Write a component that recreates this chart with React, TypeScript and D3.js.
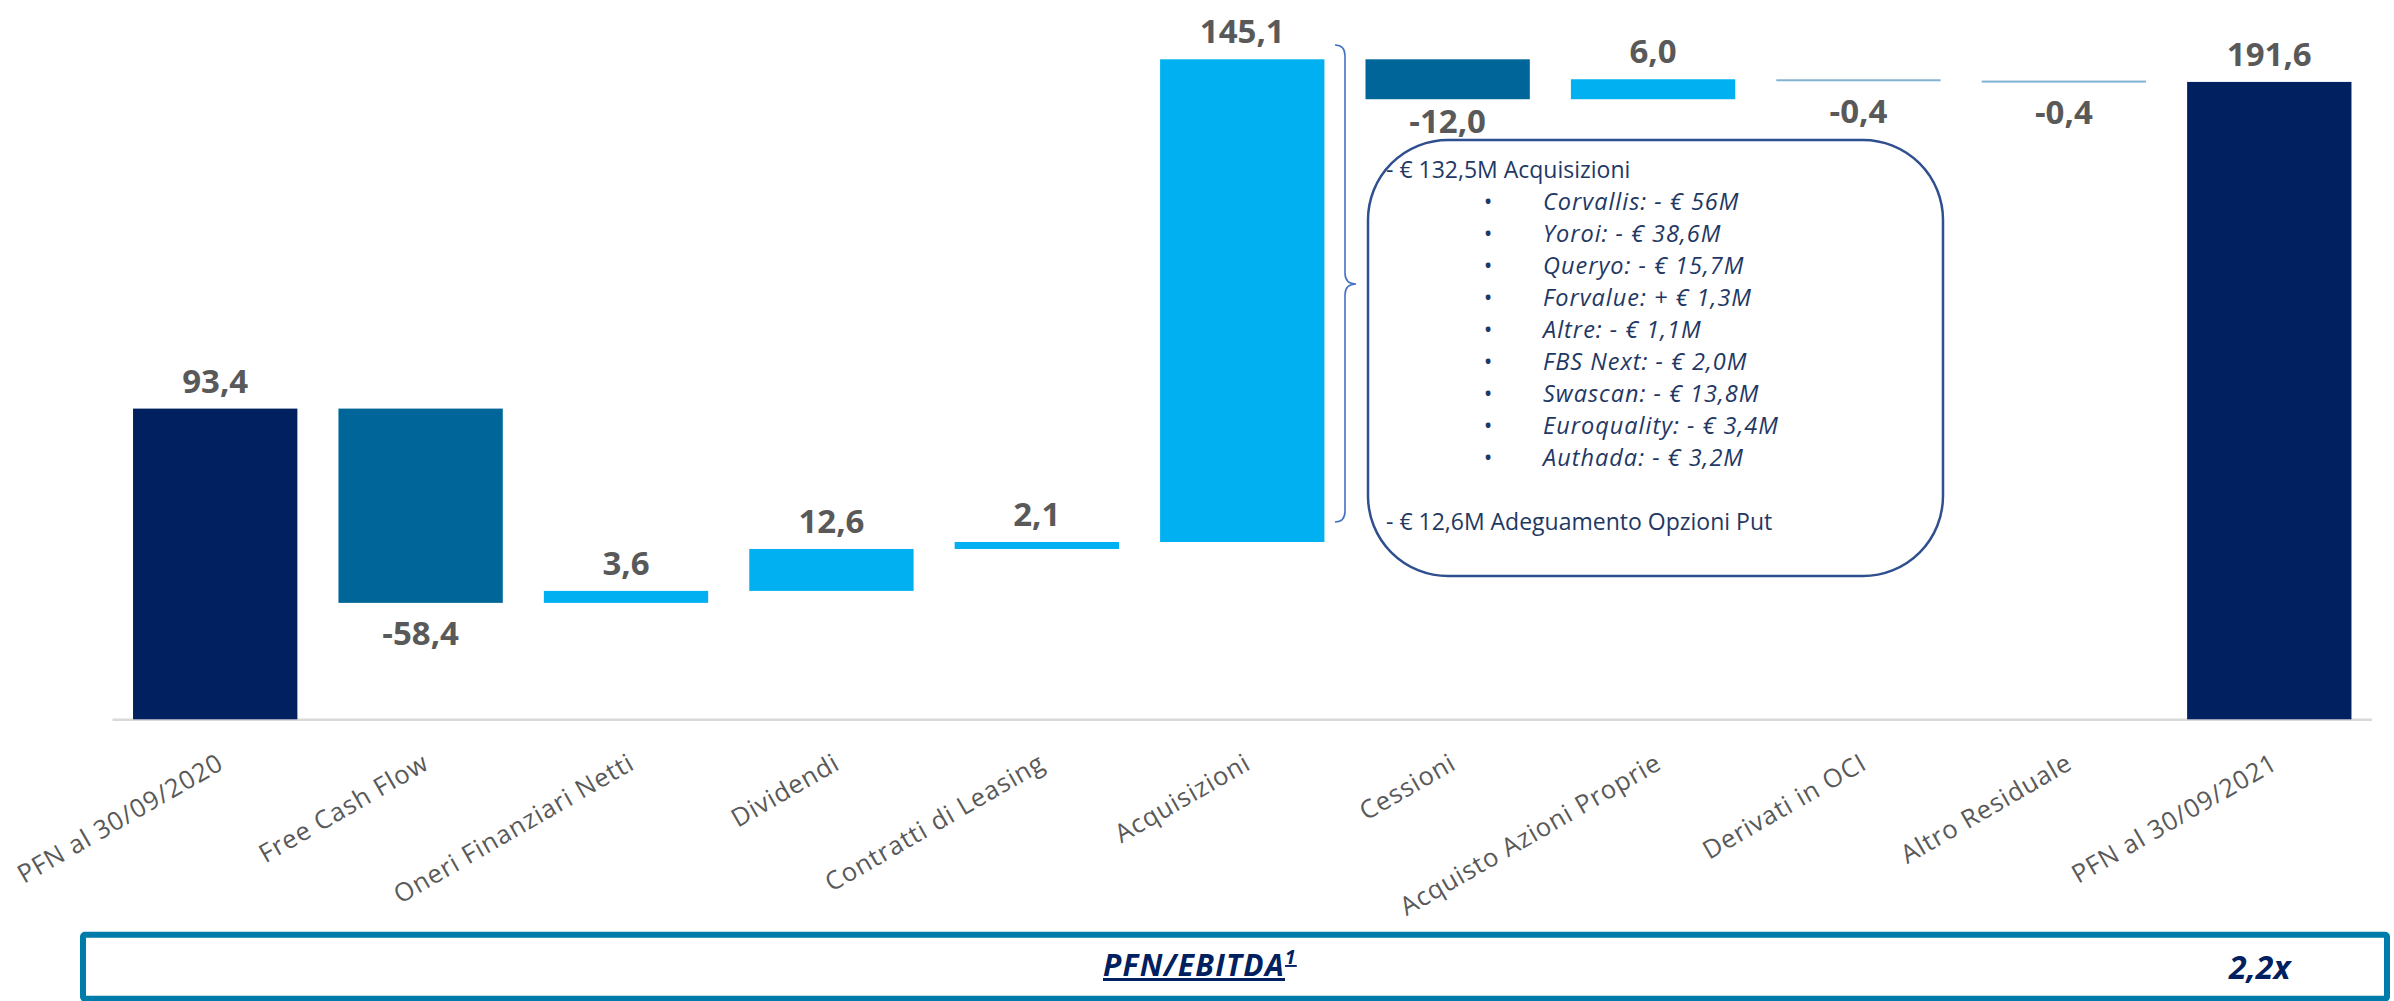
import React from "react";
import * as d3 from "d3";

const categories = [
  "PFN al 30/09/2020",
  "Free Cash Flow",
  "Oneri Finanziari Netti",
  "Dividendi",
  "Contratti di Leasing",
  "Acquisizioni",
  "Cessioni",
  "Acquisto Azioni Proprie",
  "Derivati in OCI",
  "Altro Residuale",
  "PFN al 30/09/2021",
];
const values = [93.4, -58.4, 3.6, 12.6, 2.1, 145.1, -12.0, 6.0, -0.4, -0.4, 191.6];
const isTotal = [true, false, false, false, false, false, false, false, false, false, true];

const acqHeader = "- € 132,5M Acquisizioni";
const acqItems = [
  "Corvallis: - € 56M",
  "Yoroi: - € 38,6M",
  "Queryo: - € 15,7M",
  "Forvalue: + € 1,3M",
  "Altre: - € 1,1M",
  "FBS Next: - € 2,0M",
  "Swascan: - € 13,8M",
  "Euroquality: - € 3,4M",
  "Authada: - € 3,2M",
];
const putLine = "- € 12,6M Adeguamento Opzioni Put";
const ratioLabel = "PFN/EBITDA";
const ratioSup = "1";
const ratioValue = "2,2x";

const W = 2394;
const H = 1001;
const FONT = "'Open Sans', 'DejaVu Sans', sans-serif";
const NAVY = "#002060";
const DARK = "#006699";
const LIGHT = "#00B0F0";
const TINY = "#80B3D3";
const LABEL = "#595959";
const BOXTEXT = "#1F3864";

const fmt = (v: number) => d3.format(".1f")(v).replace(".", ",").replace("\u2212", "-");

export default function App() {
  const x = d3
    .scaleBand<string>()
    .domain(categories)
    .range([112.5, 2372])
    .paddingInner(0.2)
    .paddingOuter(0.1);
  const y = d3.scaleLinear().domain([0, 100]).range([719.3, 386.64]);

  let cum = 0;
  const bars = categories.map((c, i) => {
    const v = values[i];
    let start: number, end: number;
    if (isTotal[i]) {
      start = 0;
      end = v;
      cum = v;
    } else {
      start = cum;
      end = cum + v;
      cum = end;
    }
    const top = y(Math.max(start, end));
    const bottom = y(Math.min(start, end));
    const color = isTotal[i] ? NAVY : Math.abs(v) < 1 ? TINY : v < 0 ? DARK : LIGHT;
    return { c, v, top, bottom, color, x0: x(c) as number };
  });

  const bw = x.bandwidth();
  const boxX = 1368;
  const boxY = 140;
  const boxW = 575;
  const boxH = 436;
  const lineStep = 32;
  const headerBase = 178;

  return (
    <svg
      width={W}
      height={H}
      style={{ position: "absolute", left: 0, top: 0, background: "#fff" }}
      fontFamily={FONT}
    >
      <rect x={0} y={0} width={W} height={H} fill="#fff" />
      {/* axis line */}
      <line x1={112.5} x2={2372} y1={y(0) + 0.5} y2={y(0) + 0.5} stroke="#D9D9D9" strokeWidth={2.4} />

      {/* bars */}
      {bars.map((b, i) => (
        <rect
          key={"b" + i}
          x={b.x0}
          y={b.top}
          width={bw}
          height={Math.max(b.bottom - b.top, 2)}
          fill={b.color}
        />
      ))}

      {/* value labels */}
      {bars.map((b, i) => {
        const cx = b.x0 + bw / 2;
        const yy =
          b.v >= 0 ? b.top - 16 : Math.min(b.bottom + 42, cx > boxX && cx < boxX + boxW ? boxY - 7 : 9999);
        return (
          <text
            key={"v" + i}
            x={cx}
            y={yy}
            textAnchor="middle"
            fontSize={33}
            fontWeight={700}
            fill={LABEL}
          >
            {fmt(b.v)}
          </text>
        );
      })}

      {/* category labels */}
      {bars.map((b, i) => {
        const ax = b.x0 + bw / 2 + 10;
        const ay = 768;
        return (
          <text
            key={"c" + i}
            x={ax}
            y={ay}
            textAnchor="end"
            fontSize={25.5}
            letterSpacing={0.9}
            fill={LABEL}
            transform={`rotate(-30 ${ax} ${ay})`}
          >
            {b.c}
          </text>
        );
      })}

      {/* brace */}
      <path
        d="M1335,45 Q1345,45 1345,56 L1345,273 Q1345,284 1356,284 Q1345,284 1345,295 L1345,511 Q1345,522 1335,522"
        fill="none"
        stroke="#4472C4"
        strokeWidth={1.6}
      />

      {/* annotation box */}
      <rect
        x={boxX}
        y={boxY}
        width={boxW}
        height={boxH}
        rx={80}
        ry={80}
        fill="#fff"
        stroke="#2F4F8F"
        strokeWidth={2.5}
      />
      <text x={1386} y={headerBase} fontSize={23} fill={BOXTEXT}>
        {acqHeader}
      </text>
      {acqItems.map((t, i) => (
        <g key={"a" + i}>
          <text x={1488} y={headerBase + lineStep * (i + 1)} fontSize={23} fill={BOXTEXT} textAnchor="middle">
            •
          </text>
          <text
            x={1543}
            y={headerBase + lineStep * (i + 1)}
            fontSize={23.5}
            letterSpacing={1}
            fontStyle="italic"
            fill={BOXTEXT}
          >
            {t}
          </text>
        </g>
      ))}
      <text x={1386} y={headerBase + lineStep * (acqItems.length + 2)} fontSize={23} fill={BOXTEXT}>
        {putLine}
      </text>

      {/* bottom ratio box */}
      <rect x={83} y={934.7} width={2304} height={64} rx={2} fill="none" stroke="#007CAA" strokeWidth={6} />
      <text
        x={1103}
        y={976}
        fontSize={30}
        letterSpacing={1.3}
        fontWeight={700}
        fontStyle="italic"
        fill={NAVY}
        textDecoration="underline"
      >
        {ratioLabel}
        <tspan fontSize={19} dy={-12}>
          {ratioSup}
        </tspan>
      </text>
      <text x={2229} y={979} fontSize={32} fontWeight={700} fontStyle="italic" fill={NAVY}>
        {ratioValue}
      </text>
    </svg>
  );
}
